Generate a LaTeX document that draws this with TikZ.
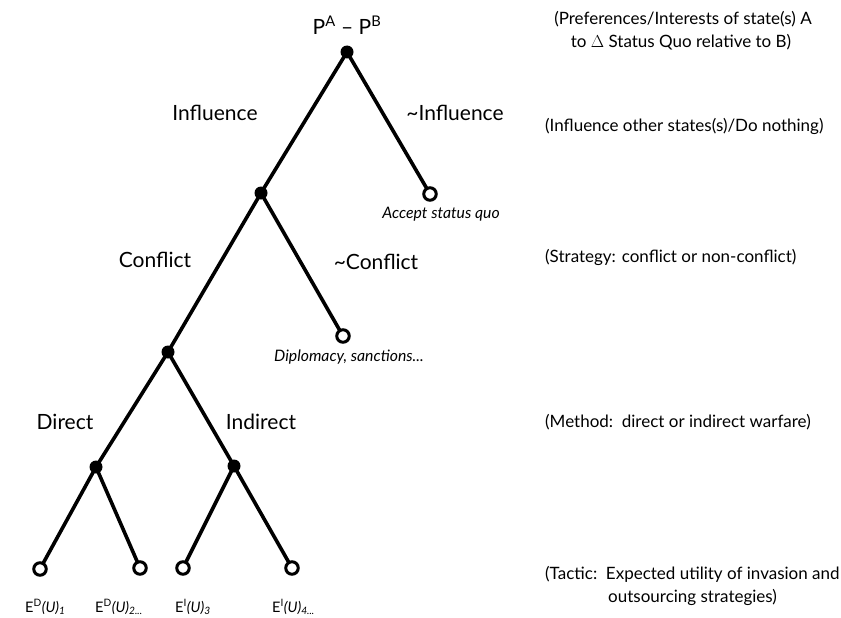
\documentclass[tikz,border=0pt]{standalone}
\usepackage{fontspec}
\setmainfont{Lato}
\begin{document}
\begin{tikzpicture}[x=1pt,y=-1pt,
  edge/.style={line width=3.6pt},
  inner/.style={circle,fill=black,inner sep=0pt,minimum size=13pt},
  leaf/.style={circle,draw=black,fill=white,line width=3pt,inner sep=0pt,minimum size=12.5pt},
  blab/.style={font=\fontsize{21}{24}\selectfont,inner sep=0pt},
  ilab/.style={font=\fontsize{15.8}{18}\selectfont\itshape,inner sep=0pt},
  rlab/.style={font=\fontsize{17}{20}\selectfont,inner sep=0pt,anchor=west},
  elab/.style={font=\fontsize{14.5}{17}\selectfont,inner sep=0pt,anchor=west}]
\useasboundingbox (0,0) rectangle (841,618);
% node positions
\coordinate (r) at (347,52);
\coordinate (i) at (261,193);
\coordinate (a) at (430,194);
\coordinate (c) at (168,352);
\coordinate (d) at (343,336);
\coordinate (m1) at (96,467);
\coordinate (m2) at (234,466);
\coordinate (l1) at (40,569);
\coordinate (l2) at (140,568);
\coordinate (l3) at (183,568);
\coordinate (l4) at (292,568);
% edges
\draw[edge] (r) -- (i);
\draw[edge] (r) -- (a);
\draw[edge] (i) -- (c);
\draw[edge] (i) -- (d);
\draw[edge] (c) -- (m1);
\draw[edge] (c) -- (m2);
\draw[edge] (m1) -- (l1);
\draw[edge] (m1) -- (l2);
\draw[edge] (m2) -- (l3);
\draw[edge] (m2) -- (l4);
% nodes
\node[inner] (nr) at (r) {};
\node[inner] (ni) at (i) {};
\node[inner] (nc) at (c) {};
\node[inner] (nm1) at (m1) {};
\node[inner] (nm2) at (m2) {};
\node[leaf] (na) at (a) {};
\node[leaf] (nd) at (d) {};
\node[leaf] (nl1) at (l1) {};
\node[leaf] (nl2) at (l2) {};
\node[leaf] (nl3) at (l3) {};
\node[leaf] (nl4) at (l4) {};
% labels
\node[blab] (top) at (347,25) {P\textsuperscript{A} -- P\textsuperscript{B}};
\node[blab] (tinf) at (215,113) {Influence};
\node[blab] (tninf) at (455,113) {\textasciitilde Influence};
\node[blab] (tcon) at (155,260) {Conflict};
\node[blab] (tncon) at (376,262) {\textasciitilde Conflict};
\node[blab] (tdir) at (65,422) {Direct};
\node[blab] (tind) at (261,422) {Indirect};
\node[ilab] (tacc) at (441,214) {Accept status quo};
\node[ilab] (tdip) at (349,357) {Diplomacy, sanctions...};
\node[elab] (e1) at (25,607) {E\textsuperscript{D}\textit{(U)\textsubscript{1}}};
\node[elab] (e2) at (95,607) {E\textsuperscript{D}\textit{(U)\textsubscript{2...}}};
\node[elab] (e3) at (175,607) {E\textsuperscript{I}\textit{(U)\textsubscript{3}}};
\node[elab] (e4) at (272,607) {E\textsuperscript{I}\textit{(U)\textsubscript{4...}}};
% right column
\node[rlab,anchor=center] (p1) at (683,19) {(Preferences/Interests of state(s) A};
\node[rlab,anchor=center] (p2) at (681,42) {to \(\Delta\) Status Quo relative to B)};
\node[rlab] (q) at (545,126) {(Influence other states(s)/Do nothing)};
\node[rlab] (s) at (545,257) {(Strategy: conflict or non-conflict)};
\node[rlab] (mt) at (545,422) {(Method:\ \ direct or indirect warfare)};
\node[rlab] (t1) at (545,574) {(Tactic:\ \ Expected utility of invasion and};
\node[rlab] (t2) at (608,597) {outsourcing strategies)};
\end{tikzpicture}
\end{document}
